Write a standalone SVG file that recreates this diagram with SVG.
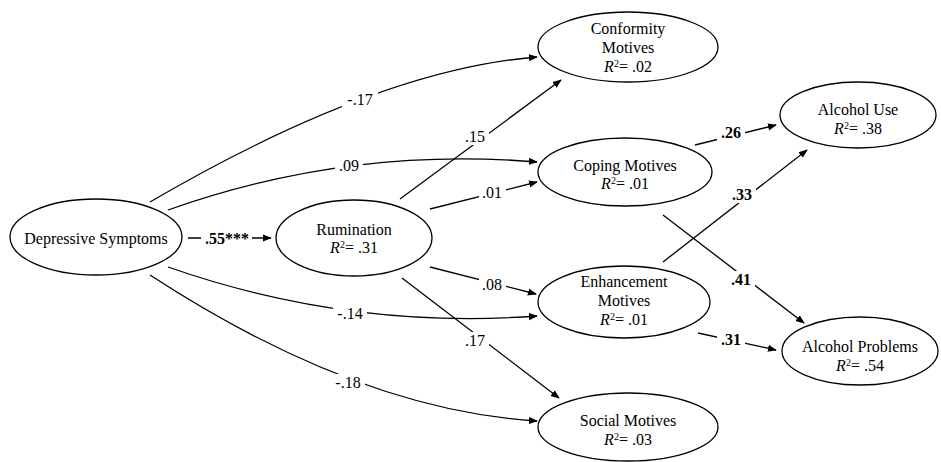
<svg xmlns="http://www.w3.org/2000/svg" width="941" height="462" viewBox="0 0 941 462">
<style>
  .node { fill: #fff; stroke: #000; stroke-width: 1.3; }
  .nt { font-family: "Liberation Serif", "Times New Roman", serif; font-size: 16px; fill: #000; text-anchor: middle; }
  .edge { fill: none; stroke: #000; stroke-width: 1.3; marker-end: url(#arr); }
  .lbl { font-family: "Liberation Serif", "Times New Roman", serif; font-size: 16px; fill: #000; text-anchor: middle; }
  .b { font-weight: bold; }
  .bg { fill: #fff; }
  .it { font-style: italic; }
  .sup { font-size: 10px; }
</style>
<defs>
  <marker id="arr" viewBox="0 0 10 10" refX="9" refY="5" markerWidth="9" markerHeight="9" markerUnits="userSpaceOnUse" orient="auto">
    <path d="M0,1 L10,5 L0,9 Z" fill="#000"/>
  </marker>
</defs>

<g id="connectors">
  <path class="edge" d="M188,238 L271,238"/>
  <path class="edge" d="M150,202 Q376,70 537,57"/>
  <path class="edge" d="M168,210 Q348,146 537,162"/>
  <path class="edge" d="M168,267 Q348,330 537,316"/>
  <path class="edge" d="M150,275 Q357,410 537,421"/>
  <path class="edge" d="M400,199 L561,80"/>
  <path class="edge" d="M430,209 L537,182"/>
  <path class="edge" d="M430,267 L536,294"/>
  <path class="edge" d="M402,278 L559,398"/>
  <path class="edge" d="M695,145 L776,125"/>
  <path class="edge" d="M663,262 L807,150"/>
  <path class="edge" d="M663,215 L804,323"/>
  <path class="edge" d="M698,333 L776,350"/>

  <rect class="bg" x="201" y="229" width="51" height="18"/>
  <text class="lbl b" x="227" y="244">.55***</text>
  <rect class="bg" x="342" y="91" width="36" height="17"/>
  <text class="lbl" x="360" y="105">-.17</text>
  <rect class="bg" x="335" y="157" width="28" height="17"/>
  <text class="lbl" x="349" y="171">.09</text>
  <rect class="bg" x="333" y="305" width="34" height="17"/>
  <text class="lbl" x="350" y="319">-.14</text>
  <rect class="bg" x="331" y="374" width="34" height="17"/>
  <text class="lbl" x="348" y="388">-.18</text>
  <rect class="bg" x="461" y="128" width="28" height="17"/>
  <text class="lbl" x="475" y="142">.15</text>
  <rect class="bg" x="479" y="184" width="27" height="17"/>
  <text class="lbl" x="492" y="198">.01</text>
  <rect class="bg" x="479" y="276" width="27" height="17"/>
  <text class="lbl" x="492" y="290">.08</text>
  <rect class="bg" x="461" y="332" width="28" height="17"/>
  <text class="lbl" x="475" y="346">.17</text>
  <rect class="bg" x="717" y="124" width="28" height="17"/>
  <text class="lbl b" x="731" y="138">.26</text>
  <rect class="bg" x="728" y="186" width="28" height="17"/>
  <text class="lbl b" x="742" y="200">.33</text>
  <rect class="bg" x="727" y="271" width="28" height="17"/>
  <text class="lbl b" x="741" y="285">.41</text>
  <rect class="bg" x="717" y="331" width="28" height="17"/>
  <text class="lbl b" x="731" y="345">.31</text>
</g>

<g id="depressive">
  <ellipse class="node" cx="96" cy="237" rx="86" ry="38"/>
  <text class="nt" x="96" y="244">Depressive Symptoms</text>
</g>
<g id="rumination">
  <ellipse class="node" cx="354" cy="238" rx="78" ry="38"/>
  <text class="nt" x="354" y="235">Rumination</text>
  <text class="nt" x="354" y="253"><tspan class="it">R</tspan><tspan class="sup" dy="-5">2</tspan><tspan dy="5">= .31</tspan></text>
</g>
<g id="conformity">
  <ellipse class="node" cx="628" cy="47" rx="90" ry="35"/>
  <text class="nt" x="628" y="34">Conformity</text>
  <text class="nt" x="628" y="53">Motives</text>
  <text class="nt" x="628" y="72"><tspan class="it">R</tspan><tspan class="sup" dy="-5">2</tspan><tspan dy="5">= .02</tspan></text>
</g>
<g id="coping">
  <ellipse class="node" cx="625" cy="172" rx="87" ry="34"/>
  <text class="nt" x="625" y="171">Coping Motives</text>
  <text class="nt" x="625" y="189"><tspan class="it">R</tspan><tspan class="sup" dy="-5">2</tspan><tspan dy="5">= .01</tspan></text>
</g>
<g id="enhancement">
  <ellipse class="node" cx="624" cy="302" rx="86" ry="36"/>
  <text class="nt" x="624" y="287">Enhancement</text>
  <text class="nt" x="624" y="306">Motives</text>
  <text class="nt" x="624" y="325"><tspan class="it">R</tspan><tspan class="sup" dy="-5">2</tspan><tspan dy="5">= .01</tspan></text>
</g>
<g id="social">
  <ellipse class="node" cx="628" cy="427" rx="90" ry="34"/>
  <text class="nt" x="628" y="426">Social Motives</text>
  <text class="nt" x="628" y="445"><tspan class="it">R</tspan><tspan class="sup" dy="-5">2</tspan><tspan dy="5">= .03</tspan></text>
</g>
<g id="alcohol-use">
  <ellipse class="node" cx="858" cy="115" rx="78" ry="33"/>
  <text class="nt" x="858" y="115">Alcohol Use</text>
  <text class="nt" x="858" y="134"><tspan class="it">R</tspan><tspan class="sup" dy="-5">2</tspan><tspan dy="5">= .38</tspan></text>
</g>
<g id="alcohol-problems">
  <ellipse class="node" cx="860" cy="351" rx="78" ry="34"/>
  <text class="nt" x="860" y="352">Alcohol Problems</text>
  <text class="nt" x="860" y="371"><tspan class="it">R</tspan><tspan class="sup" dy="-5">2</tspan><tspan dy="5">= .54</tspan></text>
</g>
</svg>
